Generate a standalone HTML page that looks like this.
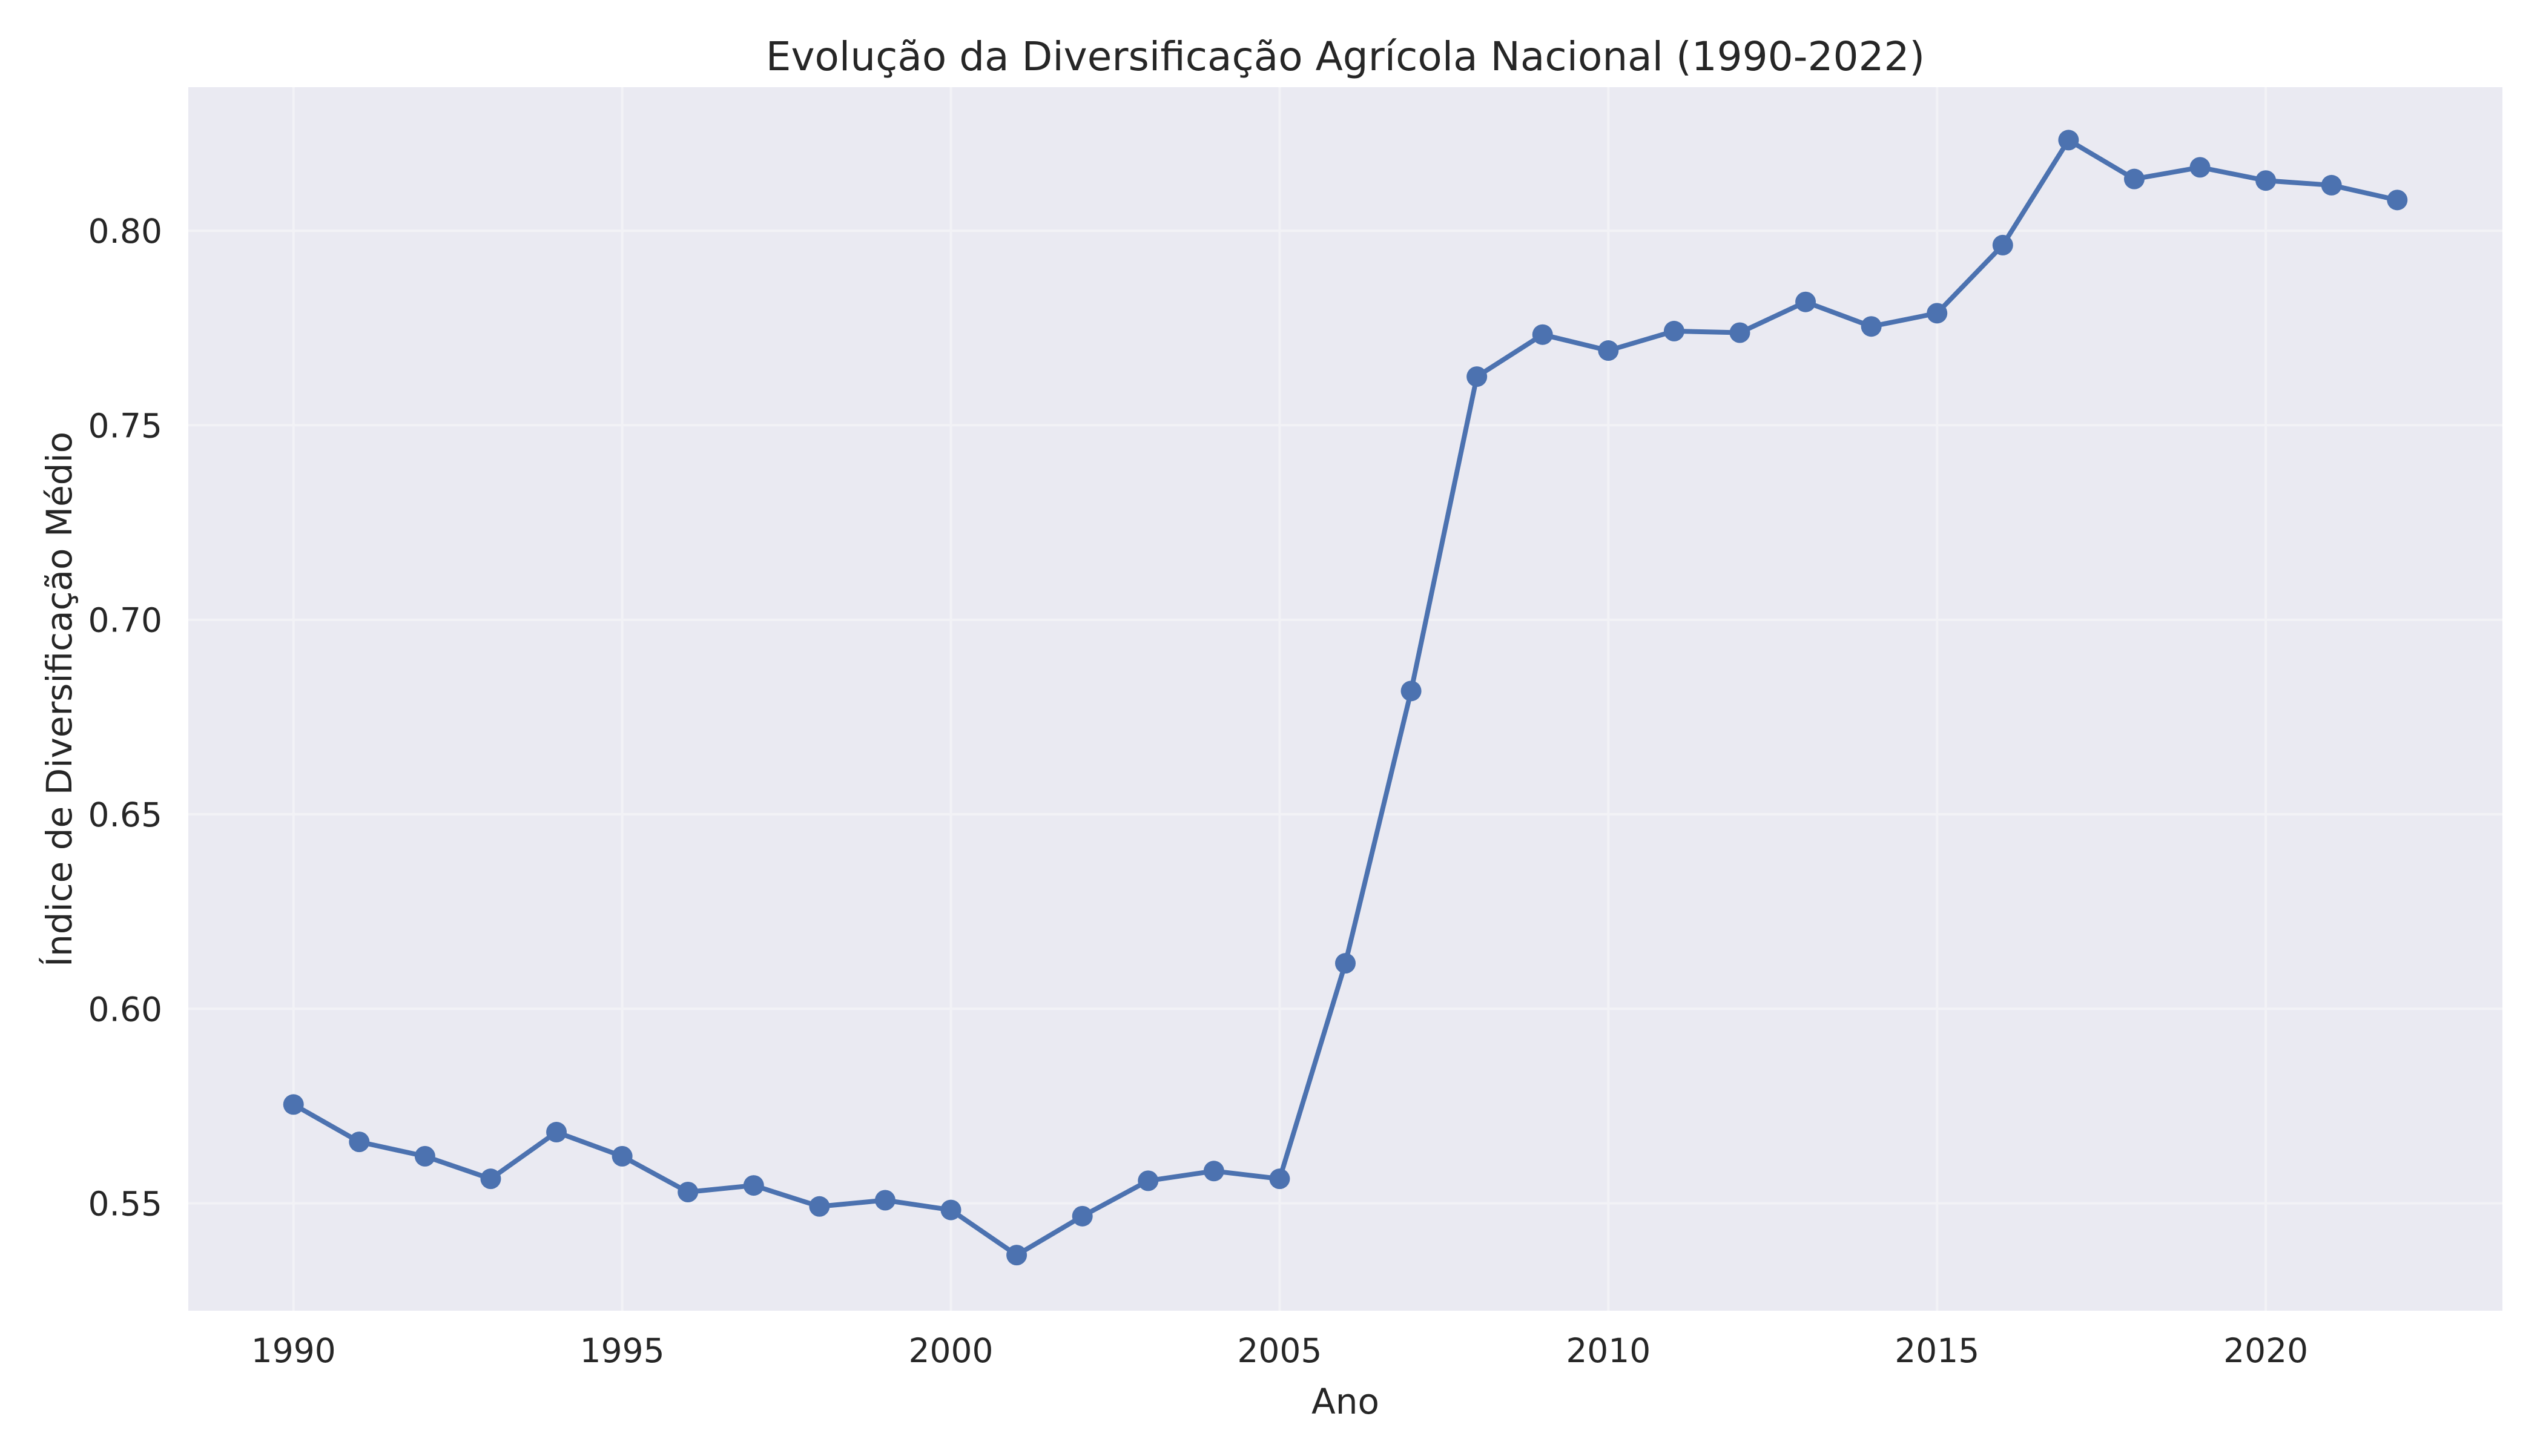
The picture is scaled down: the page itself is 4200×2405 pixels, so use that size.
<!DOCTYPE html>
<html><head><meta charset="utf-8"><style>
html,body{margin:0;padding:0;background:#fff}
svg text{font-family:"DejaVu Sans","Liberation Sans",sans-serif;fill:#262626}
</style></head><body>
<svg width="4200" height="2400" viewBox="0 0 4200 2400" xmlns="http://www.w3.org/2000/svg">
<rect x="311" y="144" width="3822" height="2021" fill="#eaeaf2"/>
<g id="grid"></g>
<g id="ticks"></g>
<path id="line" fill="none" stroke="#4c72b0" stroke-width="8" stroke-linejoin="round"/>
<g id="markers"></g>
<text x="2222" y="116" font-size="66" text-anchor="middle">Evolução da Diversificação Agrícola Nacional (1990-2022)</text>
<text x="2222" y="2335" font-size="58" text-anchor="middle">Ano</text>
<text x="0" y="0" font-size="58" text-anchor="middle" transform="translate(118,1155) rotate(-90)">Índice de Diversificação Médio</text>
</svg>
<script>
const years=[1990,1991,1992,1993,1994,1995,1996,1997,1998,1999,2000,2001,2002,2003,2004,2005,2006,2007,2008,2009,2010,2011,2012,2013,2014,2015,2016,2017,2018,2019,2020,2021,2022];
const values=[0.5754,0.5658,0.5621,0.5563,0.5683,0.5621,0.5529,0.5546,0.5492,0.5508,0.5483,0.5367,0.5467,0.5558,0.5583,0.5563,0.6117,0.6817,0.7625,0.7733,0.7692,0.7742,0.7738,0.7817,0.7754,0.7788,0.7963,0.8233,0.8133,0.8163,0.8129,0.8117,0.8079];
const xTicks=[1990,1995,2000,2005,2010,2015,2020];
const yTicks=[0.55,0.60,0.65,0.70,0.75,0.80];
const yTickLabels=["0.55","0.60","0.65","0.70","0.75","0.80"];
const L=311,R=4133,T=144,B=2165;
const xMin=1988.4,xMax=2023.6,yMin=0.5224,yMax=0.8369;
function xs(v){return L+(v-xMin)/(xMax-xMin)*(R-L);}
function ys(v){return B-(v-yMin)/(yMax-yMin)*(B-T);}
const NS="http://www.w3.org/2000/svg";
const grid=document.getElementById('grid'),ticks=document.getElementById('ticks');
xTicks.forEach(t=>{
  const l=document.createElementNS(NS,'line');
  
  
  l.setAttribute('x1',xs(t));l.setAttribute('x2',xs(t));l.setAttribute('y1',T);l.setAttribute('y2',B);
  l.setAttribute('stroke','#f2f2f6');l.setAttribute('stroke-width','4');grid.appendChild(l);
  const tx=document.createElementNS(NS,'text');
  
  
  tx.setAttribute('x',xs(t));tx.setAttribute('y',2250);tx.setAttribute('font-size','55');tx.setAttribute('text-anchor','middle');
  tx.textContent=t;ticks.appendChild(tx);
});
yTicks.forEach((t,i)=>{
  const l=document.createElementNS(NS,'line');
  
  
  l.setAttribute('x1',L);l.setAttribute('x2',R);l.setAttribute('y1',ys(t));l.setAttribute('y2',ys(t));
  l.setAttribute('stroke','#f2f2f6');l.setAttribute('stroke-width','4');grid.appendChild(l);
  const tx=document.createElementNS(NS,'text');
  
  
  tx.setAttribute('x',268);tx.setAttribute('y',ys(t)+20);tx.setAttribute('font-size','55');tx.setAttribute('text-anchor','end');
  tx.textContent=yTickLabels[i];ticks.appendChild(tx);
});
document.getElementById('line').setAttribute('d',years.map((y,i)=>(i?'L':'M')+xs(y)+','+ys(values[i])).join(''));
const mk=document.getElementById('markers');
years.forEach((y,i)=>{
  const c=document.createElementNS(NS,'circle');
  
  
  c.setAttribute('cx',xs(y));c.setAttribute('cy',ys(values[i]));c.setAttribute('r','17');c.setAttribute('fill','#4c72b0');
  mk.appendChild(c);
});
</script>
</body></html>
